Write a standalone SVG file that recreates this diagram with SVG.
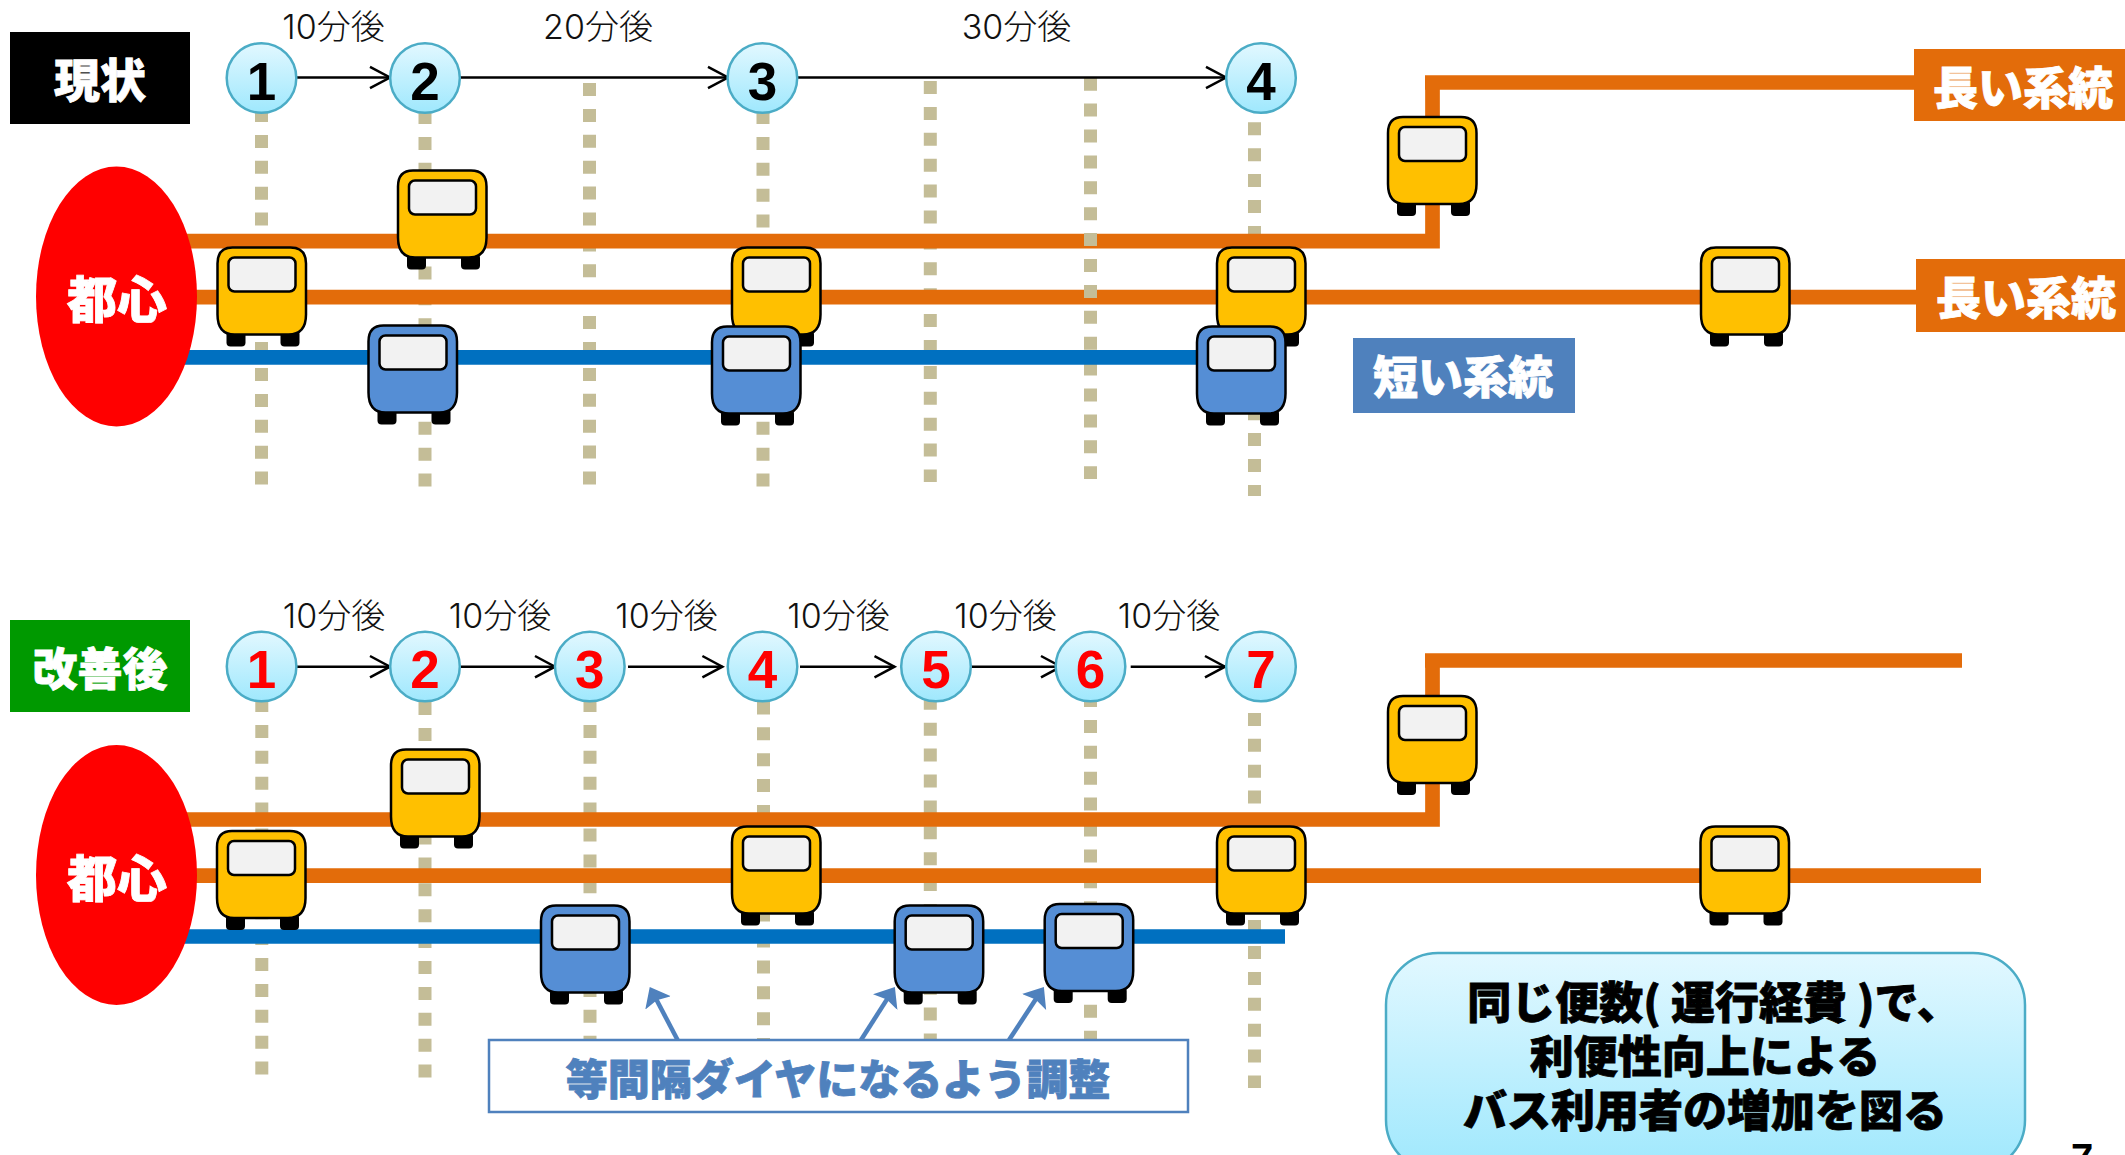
<svg xmlns="http://www.w3.org/2000/svg" width="2125" height="1155" viewBox="0 0 2125 1155">
<style>
text{font-family:"Noto Sans CJK JP","Noto Sans",sans-serif;text-anchor:middle}
.b{font-weight:900;stroke-width:.8}
.w{fill:#fff;stroke:#fff}
.k{fill:#000;stroke:#000}
.e{fill:#4f81bd;stroke:#4f81bd}
.t{font-family:Inter,"Noto Sans CJK JP",sans-serif;font-size:34px;font-weight:300;fill:#111}
.n{font-family:"Liberation Sans",sans-serif;font-weight:700;font-size:53px}
.r{fill:#f00}
.c{fill:url(#g);stroke:#4bacc6;stroke-width:2.5}
.d{stroke:#c4bd97;stroke-width:13;stroke-dasharray:13 12.9;fill:none}
.o{stroke:#e36c0a;stroke-width:14.7;fill:none}
.bl{stroke:#0070c0;stroke-width:14.7;fill:none}
.a{stroke:#000;stroke-width:2.5;fill:none;marker-end:url(#ah)}
.p{stroke:#4f81bd;stroke-width:4.5;fill:none;marker-end:url(#ph)}
.y{fill:#ffc000}
.u{fill:#558ed5}
</style>
<defs>
<linearGradient id="g" x1="0" y1="0" x2="0" y2="1"><stop offset="0" stop-color="#e2f8ff"/><stop offset="1" stop-color="#9fe8fd"/></linearGradient>
<marker id="ah" markerUnits="userSpaceOnUse" markerWidth="24" markerHeight="30" refX="21" refY="15" orient="auto" viewBox="0 0 24 30"><path d="M1 4.300L21 15L1 25.700" fill="none" stroke="#000" stroke-width="2.5"/></marker>
<marker id="ph" markerUnits="userSpaceOnUse" markerWidth="20" markerHeight="30" refX="8" refY="14.500" orient="auto" viewBox="0 0 20 29"><path d="M18 14.500L0 29L3 14.500L0 0Z" fill="#4f81bd"/></marker>
<g id="bus">
<rect x="10" y="84" width="19" height="16" rx="4" fill="#000"/>
<rect x="64" y="84" width="19" height="16" rx="4" fill="#000"/>
<path d="M16 1H74Q89.500 1 89.500 17V68Q89.500 88 72 88H18Q1 88 1 68V17Q1 1 16 1Z" stroke="#000" stroke-width="2.500"/>
<rect x="12" y="11" width="67" height="34" rx="6" fill="#f2f2f2" stroke="#000" stroke-width="2.500"/>
</g>
</defs>
<rect width="2125" height="1155" fill="#fff"/>

<g id="stops">
<path class="d" d="M261.500 109V486M425 111V488M589.500 83V486M763 111V487M930.300 81V482M1254.500 122.300V496"/>
<path class="d" d="M261.800 699V1075M425 702V1078M590 699V1040M763.500 701.400V1040M930.300 696.800V1040M1090.500 694V1040M1254.500 687V1088"/>
</g>

<g id="connectors">
<path class="o" d="M180 241.200H1432.500V83M1425 82.500H1920"/>
<path class="o" d="M180 297.200H1920"/>
<path class="d" d="M1090.500 77.700V479"/>
<path class="bl" d="M180 357.300H1200"/>
<path class="o" d="M180 819.500H1432.500V660.500M1425 660.500H1962"/>
<path class="o" d="M180 875.700H1981"/>
<path class="bl" d="M180 936.500H1285"/>
<path class="a" d="M296 77.500H390"/>
<path class="a" d="M459 77.500H728"/>
<path class="a" d="M797 77.500H1226"/>
<path class="a" d="M296.400 666.700H390"/>
<path class="a" d="M461 666.700H555"/>
<path class="a" d="M628 666.700H722.400"/>
<path class="a" d="M800 666.700H894.500"/>
<path class="a" d="M966.700 666.700H1061"/>
<path class="a" d="M1130.700 666.700H1225"/>
</g>

<g id="toshin1"><ellipse cx="116.500" cy="296.500" rx="80.500" ry="130" fill="#f00"/><text class="b w" x="117" y="318" font-size="50">都心</text></g>
<g id="toshin2"><ellipse cx="116.500" cy="875" rx="80.500" ry="130" fill="#f00"/><text class="b w" x="117" y="897" font-size="50">都心</text></g>

<g id="label-genjo"><rect x="10" y="32" width="180" height="92" fill="#000"/><text class="b w" x="100" y="97" font-size="46">現状</text></g>
<g id="label-kaizen"><rect x="10" y="620" width="180" height="92" fill="#090"/><text class="b w" x="100" y="686" font-size="45">改善後</text></g>

<g id="times-top">
<text class="t" x="333.500" y="39">10分後</text>
<text class="t" x="598" y="39">20分後</text>
<text class="t" x="1016.500" y="39">30分後</text>
</g>
<g id="times-bottom">
<text class="t" x="334" y="627.500">10分後</text>
<text class="t" x="500" y="627.500">10分後</text>
<text class="t" x="666.500" y="627.500">10分後</text>
<text class="t" x="838.500" y="627.500">10分後</text>
<text class="t" x="1005.500" y="627.500">10分後</text>
<text class="t" x="1169" y="627.500">10分後</text>
</g>

<g id="s1"><circle class="c" cx="261.500" cy="78" r="34.800"/><text class="n" x="261.500" y="99.500">1</text></g>
<g id="s2"><circle class="c" cx="425" cy="78" r="34.800"/><text class="n" x="425" y="99.500">2</text></g>
<g id="s3"><circle class="c" cx="762.400" cy="78" r="34.800"/><text class="n" x="762.400" y="99.500">3</text></g>
<g id="s4"><circle class="c" cx="1261" cy="78" r="34.800"/><text class="n" x="1261" y="99.500">4</text></g>
<g id="k1"><circle class="c" cx="261.600" cy="666.500" r="34.800"/><text class="n r" x="261.600" y="688">1</text></g>
<g id="k2"><circle class="c" cx="425" cy="666.500" r="34.800"/><text class="n r" x="425" y="688">2</text></g>
<g id="k3"><circle class="c" cx="589.800" cy="666.500" r="34.800"/><text class="n r" x="589.800" y="688">3</text></g>
<g id="k4"><circle class="c" cx="762.500" cy="666.500" r="34.800"/><text class="n r" x="762.500" y="688">4</text></g>
<g id="k5"><circle class="c" cx="936" cy="666.500" r="34.800"/><text class="n r" x="936" y="688">5</text></g>
<g id="k6"><circle class="c" cx="1090.500" cy="666.500" r="34.800"/><text class="n r" x="1090.500" y="688">6</text></g>
<g id="k7"><circle class="c" cx="1261" cy="666.500" r="34.800"/><text class="n r" x="1261" y="688">7</text></g>

<g id="bus1" class="y" transform="translate(216.500,246.500)"><use href="#bus"/></g>
<g id="bus2" class="y" transform="translate(397,169.500)"><use href="#bus"/></g>
<g id="bus3" class="y" transform="translate(731,246.500)"><use href="#bus"/></g>
<g id="bus4" class="y" transform="translate(1216,246.500)"><use href="#bus"/></g>
<g id="bus5" class="y" transform="translate(1387,116)"><use href="#bus"/></g>
<g id="bus6" class="y" transform="translate(1700,246.500)"><use href="#bus"/></g>
<g id="bus7" class="u" transform="translate(367.500,324.500)"><use href="#bus"/></g>
<g id="bus8" class="u" transform="translate(711,325.500)"><use href="#bus"/></g>
<g id="bus9" class="u" transform="translate(1196,325.500)"><use href="#bus"/></g>

<g id="bus10" class="y" transform="translate(216,830)"><use href="#bus"/></g>
<g id="bus11" class="y" transform="translate(390,748.500)"><use href="#bus"/></g>
<g id="bus12" class="y" transform="translate(731,825.500)"><use href="#bus"/></g>
<g id="bus13" class="y" transform="translate(1216,825.500)"><use href="#bus"/></g>
<g id="bus14" class="y" transform="translate(1387,695)"><use href="#bus"/></g>
<g id="bus15" class="y" transform="translate(1699.500,825.500)"><use href="#bus"/></g>
<g id="bus16" class="u" transform="translate(540,904.500)"><use href="#bus"/></g>
<g id="bus17" class="u" transform="translate(893.700,904.500)"><use href="#bus"/></g>
<g id="bus18" class="u" transform="translate(1043.700,903)"><use href="#bus"/></g>

<g id="long1"><rect x="1914" y="49" width="211" height="72" fill="#e36c0a"/><text class="b w" x="2023" y="105" font-size="45">長い系統</text></g>
<g id="long2"><rect x="1916" y="259" width="209" height="73" fill="#e36c0a"/><text class="b w" x="2026" y="315" font-size="45">長い系統</text></g>
<g id="short"><rect x="1353" y="338" width="222" height="75" fill="#4f81bd"/><text class="b w" x="1463" y="394" font-size="45">短い系統</text></g>

<g id="adjust">
<path class="p" d="M677.600 1040L654.400 995.800"/>
<path class="p" d="M861 1040L889.500 995.400"/>
<path class="p" d="M1009 1040L1038.400 995.300"/>
<rect x="489" y="1040" width="699" height="72" fill="#fff" stroke="#4f81bd" stroke-width="2.500"/>
<text class="b e" x="838" y="1095" font-size="42">等間隔ダイヤになるよう調整</text>
</g>

<g id="result">
<rect x="1386" y="953" width="639" height="219" rx="52" fill="url(#g)" stroke="#4bacc6" stroke-width="2.500"/>
<text class="b k" x="1714" y="1019" font-size="44">同じ便数( 運行経費 )で、</text>
<text class="b k" x="1705" y="1073" font-size="44">利便性向上による</text>
<text class="b k" x="1705" y="1127" font-size="44">バス利用者の増加を図る</text>
</g>
<text class="n" x="2082" y="1172" style="font-size:40px">7</text>
</svg>
